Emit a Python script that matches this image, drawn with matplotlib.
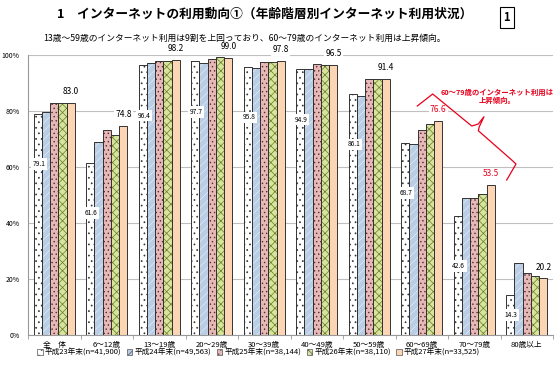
import numpy as np
import matplotlib
matplotlib.use("Agg")
import matplotlib.pyplot as plt
from matplotlib.patches import Patch
from matplotlib.lines import Line2D

plt.rcParams['font.family'] = ['Noto Sans CJK JP', 'DejaVu Sans']
plt.rcParams['hatch.linewidth'] = 0.5

# data
categories = ['全　体', '6～12歳', '13～19歳', '20～29歳', '30～39歳',
              '40～49歳', '50～59歳', '60～69歳', '70～79歳', '80歳以上']
series_names = ['平成23年末(n=41,900)', '平成24年末(n=49,563)', '平成25年末(n=38,144)',
                '平成26年末(n=38,110)', '平成27年末(n=33,525)']
h23 = [79.1, 61.6, 96.4, 97.7, 95.8, 94.9, 86.1, 68.7, 42.6, 14.3]
h24 = [79.5, 69.0, 97.2, 97.2, 95.3, 94.9, 85.4, 68.1, 48.9, 25.7]
h25 = [82.8, 73.3, 97.9, 98.5, 97.4, 96.7, 91.4, 73.1, 48.9, 22.3]
h26 = [82.8, 71.6, 97.8, 99.2, 97.6, 96.6, 91.4, 75.2, 50.2, 21.2]
h27 = [83.0, 74.8, 98.2, 99.0, 97.8, 96.5, 91.4, 76.6, 53.5, 20.2]
yticks = [0, 20, 40, 60, 80, 100]

all_series = [h23, h24, h25, h26, h27]
faces = ['white', '#b9cde5', '#e6b9b8', '#d7e4a0', '#fcd5b5']
hatch_cols = ['#333333', '#e4ecf6', '#5a2a2a', '#6b7a1e', '#fcd5b5']
hatches = ['...', '////', '....', 'xxxx', '']
red_labels = [7, 8]

fig = plt.figure(figsize=(5.6, 3.65), dpi=100)
ax = fig.add_axes([0.05, 0.0822, 0.9375, 0.767])

x = np.arange(len(categories))
w = 0.158
for i, vals in enumerate(all_series):
    pos = x + (i - 2) * w
    ax.bar(pos, vals, w, color=faces[i], edgecolor=hatch_cols[i], hatch=hatches[i],
           linewidth=0, zorder=2)
    ax.bar(pos, vals, w, fill=False, edgecolor='#333333', linewidth=0.7, zorder=3)

# labels for first series (inside) and last series (above)
for j, v in enumerate(h23):
    ly = v - 18 if v > 30 else v / 2
    ax.text(x[j] - 2 * w + 0.02, ly, f'{v:.1f}', ha='center', va='center', fontsize=4.8,
            zorder=5, bbox=dict(boxstyle='square,pad=0.25', fc='white', ec='none'))
for j, v in enumerate(h27):
    col = '#e8001c' if j in red_labels else 'black'
    ax.annotate(f'{v:.1f}', (x[j] + 2 * w, v), xytext=(0, 5), textcoords='offset points',
                ha='center', va='bottom', fontsize=6, color=col, zorder=5,
                bbox=dict(boxstyle='square,pad=0.15', fc='white', ec='none'))

ax.set_xlim(-0.5, len(categories) - 0.5)
ax.set_ylim(0, 100)
ax.set_yticks(yticks)
ax.set_yticklabels([f'{t}%' for t in yticks], fontsize=5)
ax.set_xticks(x)
ax.set_xticklabels(categories, fontsize=5.5)
ax.set_xticks(np.arange(-0.5, len(categories), 1), minor=True)
ax.tick_params(axis='x', which='major', length=0, pad=4)
ax.tick_params(axis='x', which='minor', length=3, color='#999999')
ax.tick_params(axis='y', length=0, pad=6)
ax.grid(axis='y', color='#bfbfbf', linewidth=0.8, zorder=0)
ax.set_axisbelow(True)
for s in ['top', 'right']:
    ax.spines[s].set_visible(False)
ax.spines['left'].set_color('#999999')
ax.spines['bottom'].set_color('#999999')

handles = [Patch(facecolor=faces[i], edgecolor='#555555', hatch=hatches[i], linewidth=0.5)
           for i in range(5)]
fig.legend(handles, series_names, loc='center', bbox_to_anchor=(0.462, 0.034), ncol=5,
           fontsize=5.5, frameon=False, handlelength=0.7, handleheight=0.7,
           handletextpad=0.3, columnspacing=0.7)

# titles
fig.text(0.473, 0.962, '1　インターネットの利用動向①（年齢階層別インターネット利用状況）',
         ha='center', va='center', fontsize=9.2, fontweight='bold')
fig.text(0.905, 0.952, '1', ha='center', va='center', fontsize=8, fontweight='bold',
         bbox=dict(boxstyle='square,pad=0.35', fc='white', ec='black', lw=0.8))
fig.text(0.077, 0.896, '13歳～59歳のインターネット利用は9割を上回っており、60～79歳のインターネット利用は上昇傾向。',
         ha='left', va='center', fontsize=6.3)

# red note with brace
fig.text(0.888, 0.736, '60～79歳のインターネット利用は\n上昇傾向。', ha='center', va='center',
         fontsize=5.3, fontweight='bold', color='#e8001c', linespacing=1.15)
bx = [417.3, 432.7, 471.7, 478.3, 484, 479.3, 478.3, 511.7, 516, 506.7]
by = [106, 94, 126, 124, 116.7, 126.7, 130.7, 160, 164, 180]
fig.add_artist(Line2D([p / 560 for p in bx], [1 - p / 365 for p in by],
                      transform=fig.transFigure, color='#e8001c', linewidth=0.9))

fig.savefig('out.png', dpi=100)
